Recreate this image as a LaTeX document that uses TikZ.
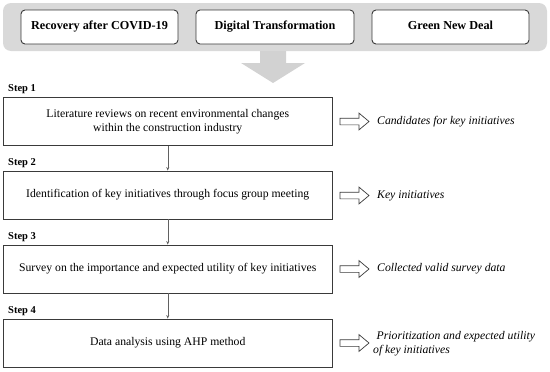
\documentclass[tikz,border=0pt]{standalone}
\usepackage{fontspec}
\setmainfont{Liberation Serif}
\usetikzlibrary{shapes.arrows,arrows.meta}
\definecolor{bannergray}{HTML}{D9D9D9}
\definecolor{arrowgray}{HTML}{D2D2D2}
\definecolor{edgegray}{HTML}{3A3A3A}
\tikzset{
  topbox/.style={draw=edgegray,line width=0.9pt,fill=white,rounded corners=4pt,minimum height=34pt,inner sep=0pt,text height=8.5pt,text depth=2.5pt,font=\fontsize{12.2}{14}\selectfont\bfseries},
  stepbox/.style={draw=edgegray,line width=0.9pt,minimum width=328.5pt,minimum height=48pt,inner sep=0pt,align=center,font=\fontsize{11.7}{14.5}\selectfont},
  steplabel/.style={anchor=west,inner sep=0pt,font=\fontsize{10.5}{12}\selectfont\bfseries},
  outarrow/.style={single arrow,draw=edgegray,line width=0.7pt,fill=white,minimum height=29pt,minimum width=16pt,inner sep=0pt,inner ysep=3pt,single arrow head extend=5pt,single arrow tip angle=80},
  result/.style={anchor=west,inner sep=0pt,align=left,font=\fontsize{11.7}{14}\selectfont\itshape},
  flow/.style={draw=edgegray!80,line width=0.5pt,-{Stealth[length=3.5pt,width=3pt]}}
}
\begin{document}
\begin{tikzpicture}[x=1pt,y=-1pt]
\useasboundingbox (0,0) rectangle (550,372);
% banner
\fill[bannergray,rounded corners=8pt] (3,3) rectangle (547,51);
\node[topbox,minimum width=157pt] (t1) at (99.5,27) {Recovery after COVID-19};
\node[topbox,minimum width=158pt] (t2) at (275,27) {Digital Transformation};
\node[topbox,minimum width=157pt] (t3) at (450.5,27) {Green New Deal};
% big arrow
\fill[arrowgray] (260,51) -- (286,51) -- (286,63) -- (305,63) -- (273,83) -- (241,63) -- (260,63) -- cycle;
% steps
\node[steplabel] (s1) at (8,89) {Step 1};
\node[stepbox] (b1) at (167.75,121.5) {Literature reviews on recent environmental changes\\within the construction industry};
\node[steplabel] (s2) at (8,163) {Step 2};
\node[stepbox] (b2) at (167.75,195) {Identification of key initiatives through focus group meeting};
\node[steplabel] (s3) at (8,237) {Step 3};
\node[stepbox] (b3) at (167.75,269) {Survey on the importance and expected utility of key initiatives};
\node[steplabel] (s4) at (8,311) {Step 4};
\node[stepbox] (b4) at (167.75,343) {Data analysis using AHP method};
\draw[flow] (b1.south) -- (b2.north);
\draw[flow] (b2.south) -- (b3.north);
\draw[flow] (b3.south) -- (b4.north);
% outcome arrows
\node[outarrow] (o1) at (352.5,121.5) {};
\node[outarrow] (o2) at (352.5,195.5) {};
\node[outarrow] (o3) at (352.5,269) {};
\node[outarrow] (o4) at (352.5,343) {};
\node[result] (r1) at (377,121.5) {Candidates for key initiatives};
\node[result] (r2) at (377,195.5) {Key initiatives};
\node[result] (r3) at (377,269) {Collected valid survey data};
\node[result] (r4) at (373,344) {\hspace{3.5pt}Prioritization and expected utility\\of key initiatives};
\end{tikzpicture}
\end{document}
